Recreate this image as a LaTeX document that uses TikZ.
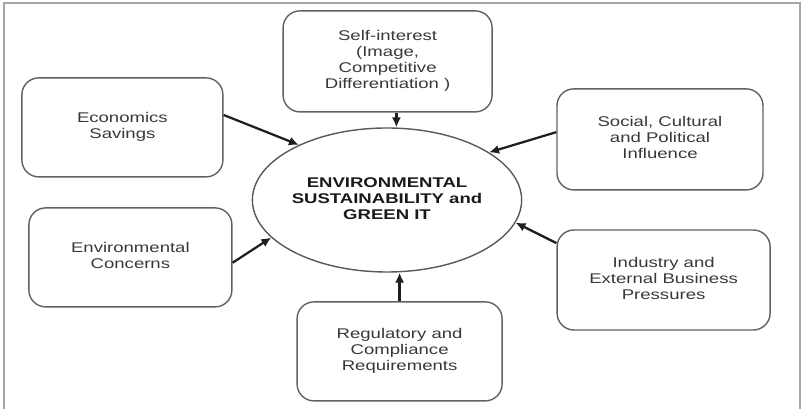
\documentclass[tikz,border=0pt]{standalone}
\usepackage{fontspec}
\setmainfont{Liberation Sans}
\usepackage{graphicx}
\usetikzlibrary{arrows.meta, shapes.geometric}

% wide centred multi-line label
\newcommand{\wtext}[1]{\scalebox{1.32}[1]{\begin{tabular}{@{}c@{}}#1\end{tabular}}}

\begin{document}
\begin{tikzpicture}[
    box/.style={draw=black!62, line width=1pt, rounded corners=0.42cm, inner sep=0pt, text=black!78, font=\fontsize{10}{11.5}\selectfont},
    hub/.style={ellipse, draw=black!65, line width=1pt, minimum width=5.2cm, minimum height=3.6cm, inner sep=0pt, text=black!90, font=\bfseries\fontsize{10}{11.5}\selectfont},
    arr/.style={-{Latex[length=7pt, width=6.5pt]}, line width=1.6pt, black!88}
]
        \useasboundingbox (0,0) rectangle (20.05,10.225);

        % Frame
        \draw[gray!70, line width=1.6pt] (0.1,0) -- (0.1,10.15) -- (20.0,10.15) -- (20.0,0);

        % Centre
        \node[hub] (hub) at (9.675,5.225) {\wtext{ENVIRONMENTAL\\SUSTAINABILITY and\\GREEN IT}};

        % Drivers
        \node[box, minimum width=5.225cm, minimum height=2.525cm] (self) at (9.69,8.69) {\wtext{Self-interest\\(Image,\\Competitive\\Differentiation )}};
        \node[box, minimum width=5.025cm, minimum height=2.475cm] (econ) at (3.06,7.04) {\wtext{Economics\\Savings}};
        \node[box, minimum width=5.075cm, minimum height=2.475cm] (env) at (3.26,3.79) {\wtext{Environmental\\Concerns}};
        \node[box, minimum width=5.125cm, minimum height=2.475cm] (reg) at (9.99,1.44) {\wtext{Regulatory and\\Compliance\\Requirements}};
        \node[box, minimum width=5.15cm, minimum height=2.525cm] (social) at (16.5,6.74) {\wtext{Social, Cultural\\and Political\\Influence}};
        \node[box, minimum width=5.325cm, minimum height=2.5cm] (ind) at (16.59,3.225) {\wtext{Industry and\\External Business\\Pressures}};

        % Connections
        \draw[arr] (econ.7) -- (hub.148);
        \draw[arr] (env.-3) -- (hub.198);
        \draw[arr] (social.176) -- (hub.25);
        \draw[arr] (ind.161) -- (hub.-10);
        \draw[arr] ([xshift=0.22cm]self.south) -- ([xshift=0.22cm]self.south |- hub.north);
        \draw[arr] (reg.north) -- (reg.north |- hub.south);
      \end{tikzpicture}
\end{document}
